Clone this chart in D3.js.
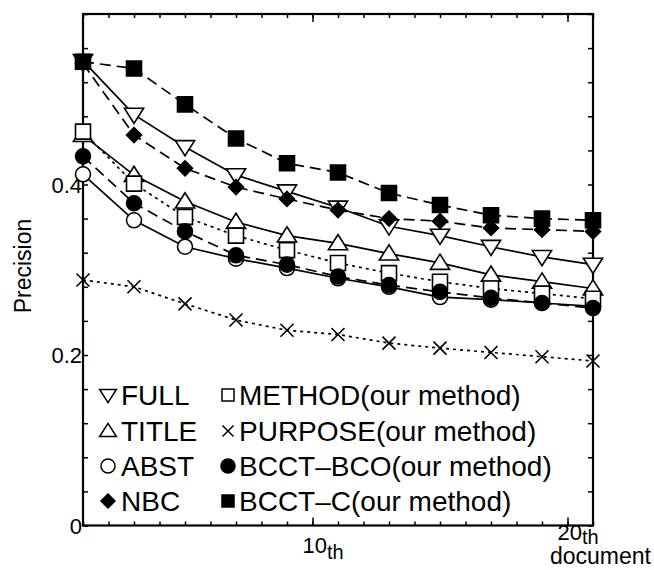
<!DOCTYPE html>
<html>
<head>
<meta charset="utf-8">
<script src="https://cdn.jsdelivr.net/npm/d3@7"></script>
<style>
  body { margin: 0; background: #fff; }
  text { font-family: "Liberation Sans", Arial, sans-serif; fill: #000; }
</style>
</head>
<body>
<div id="chart-area"></div>
<script>
// document rank (x) for every plotted point
const docs = [1, 3, 5, 7, 9, 11, 13, 15, 17, 19, 21];

// precision values
const full     = [0.545, 0.482, 0.444, 0.411, 0.392, 0.373, 0.351, 0.340, 0.327, 0.315, 0.306];
const title    = [0.458, 0.411, 0.380, 0.356, 0.340, 0.331, 0.319, 0.308, 0.294, 0.286, 0.278];
const abst     = [0.412, 0.358, 0.327, 0.313, 0.302, 0.290, 0.280, 0.268, 0.265, 0.261, 0.257];
const nbc      = [0.542, 0.458, 0.419, 0.397, 0.383, 0.370, 0.360, 0.357, 0.349, 0.347, 0.345];
const method   = [0.462, 0.401, 0.362, 0.340, 0.323, 0.308, 0.296, 0.286, 0.278, 0.272, 0.266];
const purpose  = [0.288, 0.280, 0.260, 0.241, 0.229, 0.224, 0.214, 0.208, 0.203, 0.198, 0.193];
const bcctBco  = [0.433, 0.378, 0.345, 0.317, 0.306, 0.292, 0.282, 0.274, 0.267, 0.261, 0.255];
const bcctC    = [0.544, 0.536, 0.494, 0.454, 0.425, 0.414, 0.390, 0.376, 0.364, 0.360, 0.358];

const seriesNames = ["FULL", "TITLE", "ABST", "NBC",
  "METHOD(our method)", "PURPOSE(our method)", "BCCT\u2013BCO(our method)", "BCCT\u2013C(our method)"];
const seriesValues = [full, title, abst, nbc, method, purpose, bcctBco, bcctC];
const seriesMarkers = ["triDown", "triUp", "circle", "diamond", "square", "cross", "dot", "block"];
const seriesDash = ["none", "none", "none", "11,6", "3,4", "3,4", "11,6", "11,6"];

const yTickLabels = [0, 0.2, 0.4];
const xTickLabels = [{v: 10, num: "10"}, {v: 20, num: "20"}];

const canvasWidth = 654;
const canvasHeight = 570;
const margin = {left: 83, top: 14, right: 61, bottom: 44.5};

const canvas = d3.select("#chart-area").append("svg")
  .attr("width", canvasWidth).attr("height", canvasHeight);

const x = d3.scaleLinear().domain([1, 21]).range([margin.left, canvasWidth - margin.right]);
const y = d3.scaleLinear().domain([0, 0.6]).range([canvasHeight - margin.bottom, margin.top]);

// marker paths, s = rough size in px
function markerPath(type, s) {
  const h = s / 2;
  switch (type) {
    case "triDown": return `M${-h * 1.2},${-h * 0.8}L${h * 1.2},${-h * 0.8}L0,${h * 1.1}Z`;
    case "triUp": return `M${-h * 1.2},${h * 0.8}L${h * 1.2},${h * 0.8}L0,${-h * 1.1}Z`;
    case "circle":
    case "dot": return d3.arc()({innerRadius: 0, outerRadius: h, startAngle: 0, endAngle: 2 * Math.PI});
    case "diamond": return `M0,${-h}L${h},0L0,${h}L${-h},0Z`;
    case "square":
    case "block": return `M${-h},${-h}H${h}V${h}H${-h}Z`;
    case "cross": return `M${-h},${-h}L${h},${h}M${-h},${h}L${h},${-h}`;
  }
}
const filled = t => t === "diamond" || t === "dot" || t === "block";

// axes box + ticks
const plot = canvas.append("g");

const minorX = d3.range(1, 22);
const minorY = d3.range(0, 16).map(i => i * 0.04);

plot.append("g").attr("transform", `translate(0,${y(0)})`)
  .call(d3.axisBottom(x).tickValues(minorX).tickSize(-4).tickFormat(""));
plot.append("g").attr("transform", `translate(0,${y(0)})`)
  .call(d3.axisBottom(x).tickValues([10, 20]).tickSize(-8).tickFormat(""));
plot.append("g").attr("transform", `translate(0,${y(0.6)})`)
  .call(d3.axisTop(x).tickValues(minorX).tickSize(-4).tickFormat(""));
plot.append("g").attr("transform", `translate(0,${y(0.6)})`)
  .call(d3.axisTop(x).tickValues([10, 20]).tickSize(-8).tickFormat(""));
plot.append("g").attr("transform", `translate(${x(1)},0)`)
  .call(d3.axisLeft(y).tickValues(minorY).tickSize(-5).tickFormat(""));
plot.append("g").attr("transform", `translate(${x(21)},0)`)
  .call(d3.axisRight(y).tickValues(minorY).tickSize(-5).tickFormat(""));

plot.selectAll(".domain").remove();
plot.selectAll(".tick line").attr("stroke", "#000").attr("stroke-width", 1.5);

plot.append("rect")
  .attr("x", x(1)).attr("y", y(0.6))
  .attr("width", x(21) - x(1)).attr("height", y(0) - y(0.6))
  .attr("fill", "none").attr("stroke", "#000").attr("stroke-width", 2.2);

// y tick labels
canvas.append("g").selectAll("text").data(yTickLabels).join("text")
  .attr("x", x(1) - 1).attr("y", d => y(d) + 8)
  .attr("text-anchor", "end").attr("font-size", "22px")
  .text(d => d === 0 ? "0" : d3.format(".1f")(d));

// x tick labels with subscript "th"
const xl = canvas.append("g").selectAll("text").data(xTickLabels).join("text")
  .attr("x", d => x(d.v) - 10)
  .attr("y", d => d.v === 10 ? 553 : 540)
  .attr("font-size", "22px");
xl.append("tspan").text(d => d.num);
xl.append("tspan").attr("dy", d => d.v === 10 ? 6 : 4).attr("font-size", "20px").text("th");

canvas.append("text")
  .attr("x", 651).attr("y", 564).attr("text-anchor", "end")
  .attr("font-size", "23px").text("document");

canvas.append("text")
  .attr("transform", `translate(31,266) rotate(-90)`)
  .attr("text-anchor", "middle").attr("font-size", "23px")
  .text("Precision");

// lines
const line = d3.line().x((d, i) => x(docs[i])).y(d => y(d));

canvas.append("g").selectAll("path").data(seriesValues).join("path")
  .attr("d", d => line(d))
  .attr("fill", "none").attr("stroke", "#000").attr("stroke-width", 1.7)
  .attr("stroke-dasharray", (d, i) => seriesDash[i]);

// markers
seriesValues.forEach((vals, i) => {
  const t = seriesMarkers[i];
  const size = t === "cross" ? 13 : (t === "triDown" || t === "triUp") ? 16 : 15;
  canvas.append("g").selectAll("path").data(vals).join("path")
    .attr("transform", (d, j) => `translate(${x(docs[j])},${y(d)})`)
    .attr("d", markerPath(t, size))
    .attr("fill", filled(t) ? "#000" : (t === "cross" ? "none" : "#fff"))
    .attr("stroke", "#000").attr("stroke-width", 1.6);
});

// legend
const legendRows = [395, 431, 466, 501];
const legendCols = [{sym: 108, txt: 121}, {sym: 228, txt: 239}];
const legend = canvas.append("g");
seriesNames.forEach((name, i) => {
  const col = legendCols[Math.floor(i / 4)];
  const row = legendRows[i % 4];
  const t = seriesMarkers[i];
  const size = t === "cross" ? 11 : (t === "triDown" || t === "triUp") ? 14 : (t === "square" || t === "block") ? 12 : 14;
  legend.append("path")
    .attr("transform", `translate(${col.sym},${row})`)
    .attr("d", markerPath(t, size))
    .attr("fill", filled(t) ? "#000" : (t === "cross" ? "none" : "#fff"))
    .attr("stroke", "#000").attr("stroke-width", 1.5);
  legend.append("text")
    .attr("x", col.txt).attr("y", row + 10)
    .attr("font-size", "28px")
    .text(name);
});
</script>
</body>
</html>
